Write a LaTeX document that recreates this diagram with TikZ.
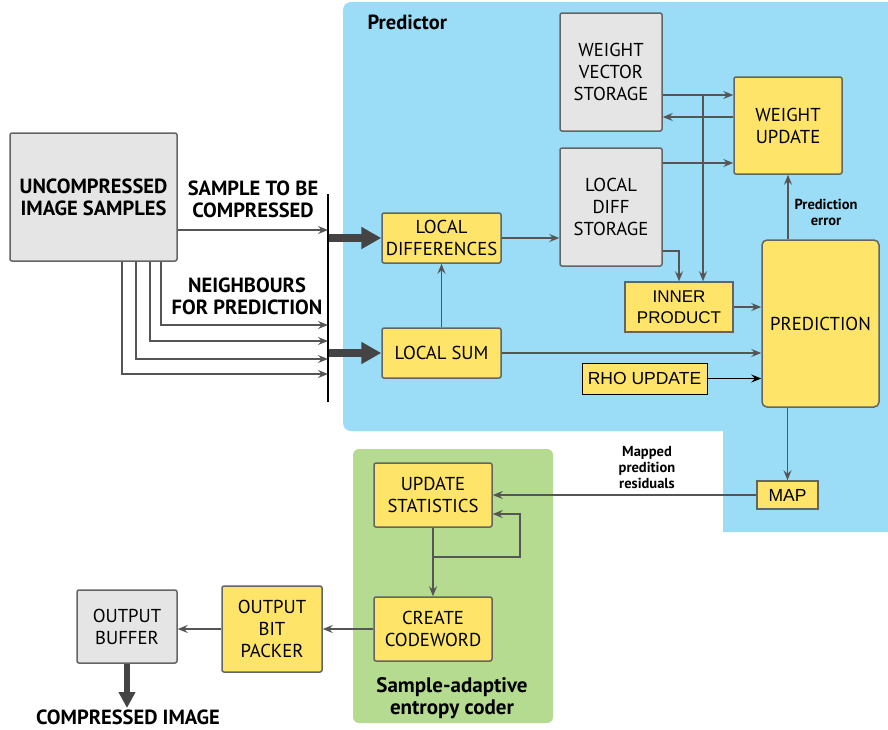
\documentclass[tikz,border=0pt]{standalone}
\usepackage{fontspec}
\setmainfont{PT Sans}
\newfontfamily\arialf{Liberation Sans}
\usetikzlibrary{arrows.meta}
\definecolor{predblue}{RGB}{155,221,247}
\definecolor{codgreen}{RGB}{180,219,143}
\definecolor{boxyellow}{RGB}{255,228,106}
\definecolor{boxgray}{RGB}{229,229,229}
\definecolor{edgegray}{RGB}{100,100,100}
\definecolor{linegray}{RGB}{85,85,85}
\definecolor{thickgray}{RGB}{68,68,68}
\tikzset{
  x=1pt, y=-1pt,
  blk/.style={draw=edgegray, line width=1.5pt, rounded corners=2pt, inner sep=0pt, align=center,
    font=\fontsize{18.7}{22}\selectfont},
  ybox/.style={blk, fill=boxyellow},
  gbox/.style={blk, fill=boxgray},
  arr/.style={draw=linegray, line width=1.4pt, -{Stealth[length=10pt,width=8pt,inset=3.5pt]}},
  fatarr/.style={draw=thickgray, line width=8pt, -{Triangle[length=20pt,width=21pt]}},
  lbl/.style={font=\bfseries\fontsize{20.5}{22}\selectfont, align=center},
  slbl/.style={font=\bfseries\fontsize{14.5}{16}\selectfont, align=center},
}
\begin{document}
\begin{tikzpicture}
\useasboundingbox (0,0) rectangle (888,729);
% regions
\fill[predblue] (888,2) -- (888,532) -- (723,532) -- (723,431) [rounded corners=8pt] -- (343,431) -- (343,2) [sharp corners] -- cycle;
\fill[codgreen, rounded corners=6pt] (353,449) rectangle (553,723);
% nodes
\node[gbox, minimum width=167pt, minimum height=128pt, font=\bfseries\fontsize{20.5}{22}\selectfont] (unc) at (93.5,197) {UNCOMPRESSED\\IMAGE SAMPLES};
\node[ybox, minimum width=119pt, minimum height=50pt] (ld) at (441.5,238) {LOCAL\\DIFFERENCES};
\node[ybox, minimum width=119pt, minimum height=50pt] (ls) at (441.5,353) {LOCAL SUM};
\node[gbox, minimum width=102pt, minimum height=118pt] (wvs) at (611,72) {WEIGHT\\VECTOR\\STORAGE};
\node[gbox, minimum width=102pt, minimum height=118pt] (lds) at (611,207) {LOCAL\\DIFF\\STORAGE};
\node[ybox, minimum width=108pt, minimum height=97pt] (wu) at (788,125.5) {WEIGHT\\UPDATE};
\node[ybox, minimum width=108pt, minimum height=50pt, rounded corners=0pt, font=\arialf\fontsize{17}{21}\selectfont] (ip) at (679,307) {INNER\\PRODUCT};
\node[ybox, minimum width=117pt, minimum height=167pt, rounded corners=5pt] (pred) at (820.5,323.5) {PREDICTION};
\node[ybox, draw=black, line width=1pt, minimum width=125pt, minimum height=31pt, rounded corners=0pt, font=\arialf\fontsize{17.5}{21}\selectfont] (rho) at (644.5,378.5) {RHO UPDATE};
\node[ybox, minimum width=61pt, minimum height=28pt, rounded corners=0pt, font=\arialf\fontsize{17.5}{21}\selectfont] (map) at (787.5,495) {MAP};
\node[ybox, minimum width=118pt, minimum height=64pt] (us) at (433,495) {UPDATE\\STATISTICS};
\node[ybox, minimum width=118pt, minimum height=64pt] (cc) at (433,629) {CREATE\\CODEWORD};
\node[ybox, minimum width=100pt, minimum height=86pt] (obp) at (272,629) {OUTPUT\\BIT\\PACKER};
\node[gbox, minimum width=100pt, minimum height=73pt] (ob) at (127,626.5) {OUTPUT\\BUFFER};
% labels
\node[lbl] (lsample) at (253,199) {SAMPLE TO BE\\COMPRESSED};
\node[lbl] (lneigh) at (247,296) {NEIGHBOURS\\FOR PREDICTION};
\node[lbl, anchor=west] (lpred) at (364,22) {Predictor};
\node[slbl] (lerr) at (826,212) {Prediction\\error};
\node[slbl] (lmap) at (647,468) {Mapped\\predition\\residuals};
\node[lbl, font=\bfseries\fontsize{21}{22}\selectfont] (lsac) at (452,698) {Sample-adaptive\\entropy coder};
\node[lbl] (lci) at (128,717) {COMPRESSED IMAGE};
% bar
\coordinate (bartop) at (328,194);
\coordinate (barbot) at (328,402);
\draw[black, line width=1.5pt] (bartop) -- (barbot);
% inputs
\coordinate (s1) at (328,230);
\draw[arr] (unc.east |- s1) -- (s1);
\coordinate (n1) at (328,325);
\coordinate (n2) at (328,341);
\coordinate (n3) at (328,359);
\coordinate (n4) at (328,374);
\draw[arr] (161,0 |- unc.south) |- (n1);
\draw[arr] (150,0 |- unc.south) |- (n2);
\draw[arr] (136,0 |- unc.south) |- (n3);
\draw[arr] (122,0 |- unc.south) |- (n4);
\draw[fatarr] (bartop |- ld.west) ++(1,0) -- (ld.west);
\draw[fatarr] (bartop |- ls.west) ++(1,0) -- (ls.west);
% predictor connectors
\draw[arr] (ls.north) -- (ld.south);
\draw[arr] (ld.east) -- (ld.east -| lds.west);
\draw[arr] (ls.east) -- (ls.east -| pred.west);
\coordinate (w1) at (0,95);
\coordinate (w2) at (0,117);
\coordinate (w3) at (0,163);
\draw[arr] (wvs.east |- w1) -- (wu.west |- w1);
\draw[arr] (wu.west |- w2) -- (wvs.east |- w2);
\draw[arr] (lds.east |- w3) -- (wu.west |- w3);
\coordinate (vj) at (703,95);
\draw[arr] (vj) -- (vj |- ip.north);
\coordinate (l1) at (0,251);
\draw[arr] (lds.east |- l1) -| (ip.north);
\draw[arr] (ip.east) -- (ip.east -| pred.west);
\draw[draw=black, line width=1.4pt, -{Stealth[length=10pt,width=8pt,inset=3.5pt]}] (rho.east) -- (rho.east -| pred.west);
\draw[arr] (wu.south |- pred.north) -- (wu.south);
\draw[arr] (map.north |- pred.south) -- (map.north);
\draw[arr] (map.west) -- (us.east);
% entropy coder
\coordinate (lp) at (520,557);
\coordinate (le) at (0,514);
\draw[arr] (us.south |- lp) -- (lp) |- (us.east |- le);
\draw[arr] (us.south) -- (cc.north);
\draw[arr] (cc.west) -- (obp.east);
\draw[arr] (obp.west) -- (ob.east |- obp.west);
\coordinate (out) at (127,708);
\draw[fatarr, line width=6pt, -{Triangle[length=16pt,width=16pt]}] (ob.south) -- (out);
\end{tikzpicture}
\end{document}
